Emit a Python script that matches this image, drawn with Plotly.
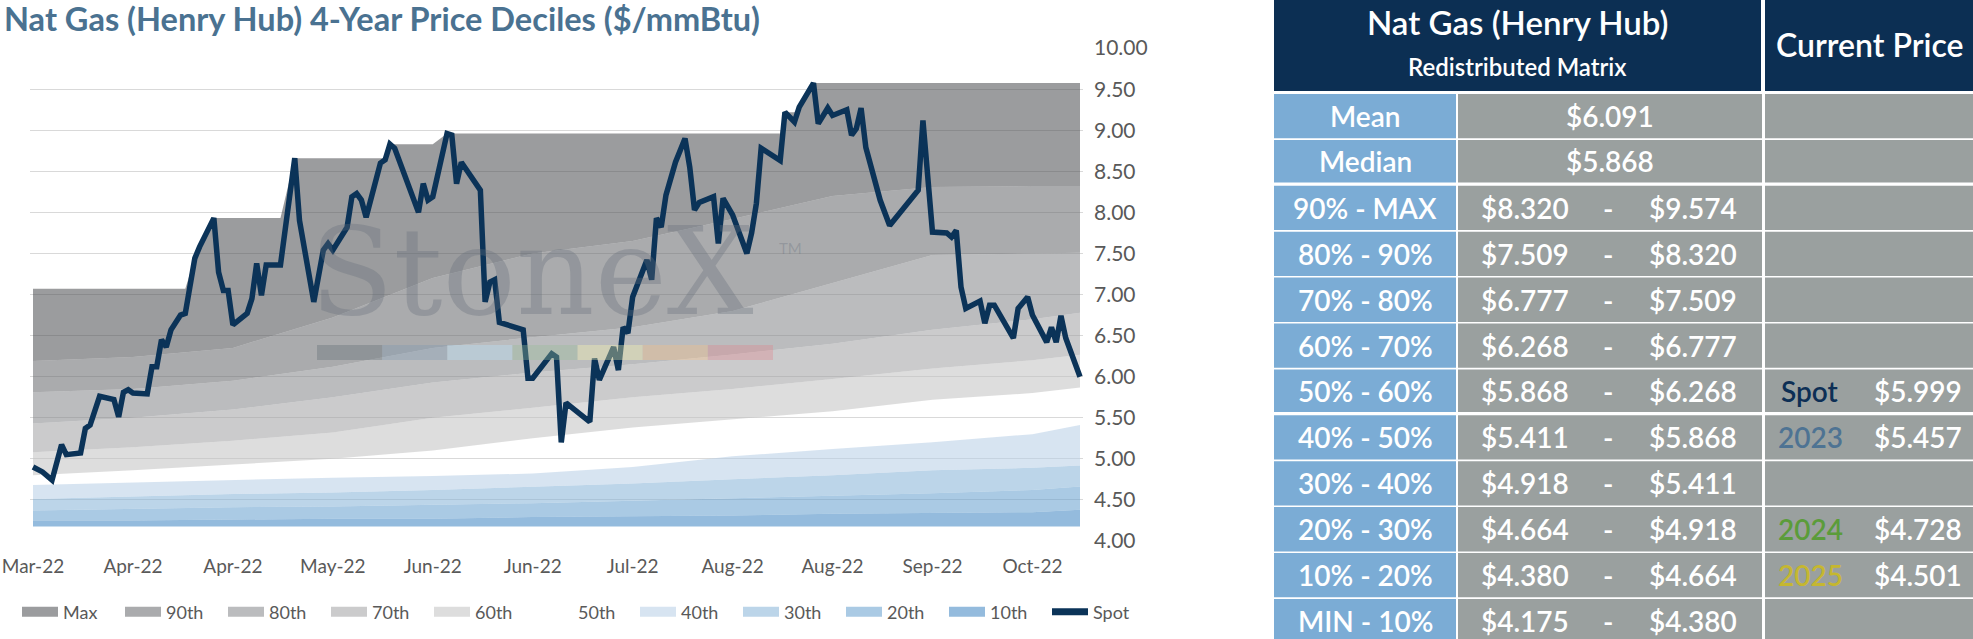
import pandas as pd
import plotly.graph_objects as go

FIG_W, FIG_H = 1973, 639

# ---------------- data ----------------
base_date = "2022-03-14"

# Spot price (day offset from base_date, $/mmBtu)
spot_day = [0, 2, 4, 6, 7, 10, 11, 12, 14, 17, 18, 19, 20, 21, 24, 25, 26, 27, 28, 29,
            31, 32, 34, 35, 38, 39, 40, 41, 42, 45, 46, 47, 48, 49, 52, 55, 56, 59, 61, 62,
            63, 66, 67, 68, 69, 70, 73, 74, 75, 76, 81, 82, 83, 84, 87, 88, 89, 90, 94, 95,
            96, 97, 98, 103, 104, 105, 109, 110, 111, 112, 117, 118, 119, 122, 123, 124, 125, 126, 129, 130,
            131, 132, 133, 135, 137, 138, 139, 140, 143, 144, 145, 147, 150, 151, 152, 153, 157, 158, 160, 161,
            164, 165, 167, 168, 171, 172, 173, 174, 175, 178, 180, 186, 187, 189, 192, 193, 194, 195, 196, 199,
            200, 201, 202, 206, 207, 209, 210, 213, 214, 215, 216, 217, 220]
spot_value = [4.90, 4.84, 4.74, 5.17, 5.05, 5.07, 5.37, 5.41, 5.76, 5.72, 5.51, 5.81, 5.84, 5.80, 5.79, 6.12, 6.12, 6.45, 6.36, 6.57,
              6.75, 6.77, 7.44, 7.58, 7.93, 7.27, 7.05, 7.05, 6.63, 6.77, 6.95, 7.38, 6.99, 7.36, 7.36, 8.66, 7.90, 6.91, 7.54, 7.62,
              7.54, 7.82, 8.19, 8.23, 8.15, 7.94, 8.60, 8.64, 8.83, 8.78, 8.00, 8.35, 8.15, 8.19, 8.96, 8.94, 8.35, 8.61, 8.27, 6.91,
              7.15, 7.18, 6.66, 6.57, 5.98, 5.98, 6.28, 6.24, 5.20, 5.68, 5.45, 6.22, 5.96, 6.36, 6.08, 6.60, 6.53, 6.97, 7.42, 7.18,
              7.93, 7.82, 8.21, 8.61, 8.90, 8.55, 8.03, 8.12, 8.19, 7.62, 8.17, 7.97, 7.50, 7.75, 8.11, 8.78, 8.63, 9.22, 9.10, 9.28,
              9.574, 9.08, 9.27, 9.18, 9.25, 8.94, 9.02, 9.27, 8.79, 8.15, 7.84, 8.27, 9.12, 7.76, 7.75, 7.70, 7.78, 7.09, 6.83, 6.92,
              6.65, 6.87, 6.87, 6.47, 6.83, 6.97, 6.75, 6.42, 6.60, 6.42, 6.74, 6.47, 5.999]

# 4-year maximum (step series)
max_day = [0, 32, 34, 35, 38, 52, 55, 74, 75, 84, 87, 157, 158, 160, 161, 164, 220]
max_value = [7.07, 7.07, 7.44, 7.58, 7.93, 7.93, 8.66, 8.66, 8.83, 8.83, 8.96, 8.96, 9.22, 9.22, 9.28, 9.574, 9.574]

# Decile boundaries (day offset, $/mmBtu)
band_day = [0, 21, 42, 63, 84, 105, 126, 147, 168, 189, 210, 220]
pct_min = [4.175, 4.175, 4.175, 4.175, 4.175, 4.175, 4.175, 4.175, 4.175, 4.175, 4.175, 4.175]
pct_10 = [4.25, 4.25, 4.26, 4.27, 4.27, 4.29, 4.30, 4.31, 4.33, 4.34, 4.35, 4.380]
pct_20 = [4.37, 4.39, 4.41, 4.42, 4.44, 4.46, 4.49, 4.52, 4.55, 4.58, 4.62, 4.664]
pct_30 = [4.51, 4.54, 4.57, 4.59, 4.62, 4.66, 4.70, 4.75, 4.80, 4.86, 4.89, 4.918]
pct_40 = [4.68, 4.71, 4.74, 4.77, 4.79, 4.82, 4.90, 5.03, 5.12, 5.20, 5.30, 5.411]
pct_50 = [4.80, 4.86, 4.93, 5.00, 5.10, 5.25, 5.38, 5.48, 5.58, 5.72, 5.80, 5.868]
pct_60 = [5.08, 5.14, 5.22, 5.32, 5.50, 5.62, 5.75, 5.85, 5.97, 6.10, 6.20, 6.268]
pct_70 = [5.43, 5.50, 5.60, 5.75, 5.93, 6.05, 6.15, 6.27, 6.40, 6.57, 6.70, 6.777]
pct_80 = [5.81, 5.85, 5.95, 6.12, 6.35, 6.48, 6.60, 6.80, 7.14, 7.48, 7.50, 7.509]
pct_90 = [6.19, 6.24, 6.35, 6.72, 7.20, 7.50, 7.65, 7.92, 8.20, 8.31, 8.32, 8.320]

band_names = ["10th", "20th", "30th", "40th", "50th", "60th", "70th", "80th", "90th"]

# Table
table_row_labels = ["Mean", "Median", "90% - MAX", "80% - 90%", "70% - 80%", "60% - 70%",
                    "50% - 60%", "40% - 50%", "30% - 40%", "20% - 30%", "10% - 20%", "MIN - 10%"]
table_mean = 6.091
table_median = 5.868
decile_low = [8.320, 7.509, 6.777, 6.268, 5.868, 5.411, 4.918, 4.664, 4.380, 4.175]
decile_high = [9.574, 8.320, 7.509, 6.777, 6.268, 5.868, 5.411, 4.918, 4.664, 4.380]
current_labels = ["Spot", "2023", "2024", "2025"]
current_values = [5.999, 5.457, 4.728, 4.501]

# ---------------- styles ----------------
FONT = "Lato"
GRAY_TXT = "#595959"
band_colors = ["#94BBDD", "#AACAE4", "#BCD5E9", "#D7E4F1", "#FFFFFF",
               "#DDDDDD", "#CBCBCC", "#BBBCBE", "#AAABAD"]
max_color = "#9B9C9E"
spot_color = "#0B3358"
current_label_colors = ["#0D2F55", "#4E7393", "#5B9C3A", "#C5B730"]
ALPHA = 0.55


def see_through(hex_color, alpha=ALPHA, invisible=False):
    if invisible:
        return "rgba(255,255,255,0)"
    h = hex_color.lstrip("#")
    rgb = [int(h[i:i + 2], 16) for i in (0, 2, 4)]
    c = [max(0, min(255, round(255 - (255 - v) / alpha))) for v in rgb]
    return f"rgba({c[0]},{c[1]},{c[2]},{alpha})"


def to_dates(days):
    return pd.Timestamp(base_date) + pd.to_timedelta(days, unit="D")


def X(px):
    return px / FIG_W


def Y(py):
    return 1 - py / FIG_H


band_dates = to_dates(band_day)
fig = go.Figure()

# ---- areas (absolute levels, filled to the previous level) ----
fig.add_trace(go.Scatter(x=band_dates, y=pct_min, mode="lines", line=dict(width=0),
                         showlegend=False, hoverinfo="skip"))
band_values = [pct_10, pct_20, pct_30, pct_40, pct_50, pct_60, pct_70, pct_80, pct_90]
for i, (name, vals) in enumerate(zip(band_names, band_values)):
    fig.add_trace(go.Scatter(
        x=band_dates, y=vals, mode="lines", line=dict(width=0),
        fill="tonexty",
        fillcolor=see_through(band_colors[i], invisible=(name == "50th")),
        name=name, legendgroup=name, showlegend=False, hoverinfo="skip"))
fig.add_trace(go.Scatter(x=to_dates(max_day), y=max_value, mode="lines", line=dict(width=0),
                         fill="tonexty", fillcolor=see_through(max_color), name="Max",
                         legendgroup="Max", showlegend=False, hoverinfo="skip"))
fig.add_trace(go.Scatter(x=to_dates(spot_day), y=spot_value, mode="lines",
                         line=dict(color=spot_color, width=5.5), name="Spot",
                         showlegend=False))

# ---- legend swatches (Max first, Spot last) ----
legend_order = ["Max"] + band_names[::-1]
legend_colors = [max_color] + band_colors[::-1]
for name, col in zip(legend_order, legend_colors):
    fig.add_trace(go.Scatter(x=[None], y=[None], mode="lines", name=name, legendgroup=name,
                             line=dict(color=("rgba(255,255,255,0)" if name == "50th" else col),
                                       width=11)))
fig.add_trace(go.Scatter(x=[None], y=[None], mode="lines", name="Spot",
                         line=dict(color=spot_color, width=7)))

# axis geometry (pixels)
PLOT_L, PLOT_R, PLOT_T, PLOT_B = 30, 1083, 48, 541
DATA_L, DATA_R = 33, 1080
px_per_day = (DATA_R - DATA_L) / (band_day[-1] - band_day[0])
x_start = pd.Timestamp(base_date) - pd.Timedelta(days=(DATA_L - PLOT_L) / px_per_day)
x_end = pd.Timestamp(base_date) + pd.Timedelta(days=band_day[-1] + (PLOT_R - DATA_R) / px_per_day)

fig.update_layout(
    width=FIG_W, height=FIG_H,
    margin=dict(l=0, r=0, t=0, b=0, autoexpand=False),
    paper_bgcolor="white", plot_bgcolor="white",
    font=dict(family=FONT, color=GRAY_TXT),
    title=dict(text="Nat Gas (Henry Hub) 4-Year Price Deciles ($/mmBtu)",
               xref="container", yref="container", x=X(4), y=Y(20),
               xanchor="left", yanchor="middle",
               font=dict(family=FONT, size=32.5, color="#4A7291", weight=700)),
    xaxis=dict(type="date", domain=[X(PLOT_L), X(PLOT_R)],
               range=[x_start, x_end], tick0=base_date, dtick=21 * 86400000,
               tickformat="%b-%y", showgrid=False, zeroline=False, showline=False,
               ticks="", ticklabelstandoff=12,
               tickfont=dict(size=19, color=GRAY_TXT, family=FONT)),
    yaxis=dict(domain=[Y(PLOT_B), Y(PLOT_T)], range=[3.999, 10.001], side="right",
               dtick=0.5, tick0=4, tickformat=".2f", showgrid=True, gridcolor="#D9D9D9",
               gridwidth=1, zeroline=False, showline=False, ticks="", ticklabelstandoff=10,
               tickfont=dict(size=21, color=GRAY_TXT, family=FONT)),
    legend=dict(orientation="h", traceorder="normal", x=X(17), y=Y(612),
                xanchor="left", yanchor="middle",
                font=dict(size=18, color=GRAY_TXT, family=FONT),
                entrywidth=52, entrywidthmode="pixels", itemwidth=36,
                bgcolor="rgba(0,0,0,0)", tracegroupgap=0),
    hovermode=False,
)

shapes = []
annotations = []

# ---- watermark ----
wm_color = "rgba(100,110,122,0.33)"
annotations.append(dict(text="StoneX", xref="paper", yref="paper", x=X(532), y=Y(272),
                        xanchor="center", yanchor="middle", showarrow=False,
                        font=dict(family="DejaVu Serif", size=122, color=wm_color)))
annotations.append(dict(text="TM", xref="paper", yref="paper", x=X(790), y=Y(248),
                        xanchor="center", yanchor="middle", showarrow=False,
                        font=dict(family=FONT, size=15, color=wm_color)))
strip_colors = ["rgba(95,105,115,0.35)", "rgba(127,153,178,0.35)", "rgba(186,229,255,0.35)",
                "rgba(151,189,151,0.35)", "rgba(251,248,174,0.35)", "rgba(250,193,133,0.35)",
                "rgba(224,132,141,0.35)"]
seg_w = (773 - 317) / len(strip_colors)
for i, c in enumerate(strip_colors):
    shapes.append(dict(type="rect", xref="paper", yref="paper",
                       x0=X(317 + i * seg_w), x1=X(317 + (i + 1) * seg_w),
                       y0=Y(360), y1=Y(345), fillcolor=c, line=dict(width=0), layer="above"))


# ---- table ----
def rect(x0, y0, x1, y1, color):
    shapes.append(dict(type="rect", xref="paper", yref="paper", x0=X(x0), x1=X(x1),
                       y0=Y(y1), y1=Y(y0), fillcolor=color, line=dict(width=0), layer="above"))


def text(s, x, y, size=28, color="white", weight=600):
    annotations.append(dict(text=s, xref="paper", yref="paper", x=X(x), y=Y(y),
                            xanchor="center", yanchor="middle", showarrow=False,
                            font=dict(family=FONT, size=size, color=color, weight=weight)))


NAVY = "#0C2F53"
BLUE = "#7BACD5"
GREY = "#9AA09F"
TBL_L, TBL_R = 1274, 1973
COL1_R, COL2_L, COL2_R, COL3_L = 1456, 1458, 1762, 1765
HDR_B, ROW0, ROW_H = 91, 94, 45.9

rect(TBL_L, 0, 1761, HDR_B, NAVY)
rect(COL3_L, 0, TBL_R, HDR_B, NAVY)
text("Nat Gas (Henry Hub)", (TBL_L + 1761) / 2, 22, size=33)
text("Redistributed Matrix", (TBL_L + 1761) / 2, 66, size=24)
text("Current Price", (COL3_L + TBL_R) / 2, 44, size=32)

lab_x = (TBL_L + COL1_R) / 2
val_x = (COL2_L + COL2_R) / 2
cur_lab_x, cur_val_x = 1810, 1918
for k, lab in enumerate(table_row_labels):
    top = ROW0 + k * ROW_H
    sep = 3.2 if k in (1, 6) else 1.6
    bot = top + ROW_H - sep
    rect(TBL_L, top, COL1_R, bot, BLUE)
    rect(COL2_L, top, COL2_R, bot, GREY)
    rect(COL3_L, top, TBL_R, bot, GREY)
    cy = top + (ROW_H - sep) / 2
    text(lab, lab_x, cy)
    if k == 0:
        text(f"${table_mean:.3f}", val_x, cy)
    elif k == 1:
        text(f"${table_median:.3f}", val_x, cy)
    else:
        j = k - 2
        text(f"${decile_low[j]:.3f}", 1525, cy)
        text("-", 1608, cy)
        text(f"${decile_high[j]:.3f}", 1693, cy)
        for lbl, v, col in zip(current_labels, current_values, current_label_colors):
            if decile_low[j] <= v < decile_high[j]:
                text(lbl, cur_lab_x, cy, color=col)
                text(f"${v:.3f}", cur_val_x, cy)

fig.update_layout(shapes=shapes, annotations=annotations)
fig.write_html("out.html", config={"displayModeBar": False},
               post_script="document.body.style.margin='0px';")
